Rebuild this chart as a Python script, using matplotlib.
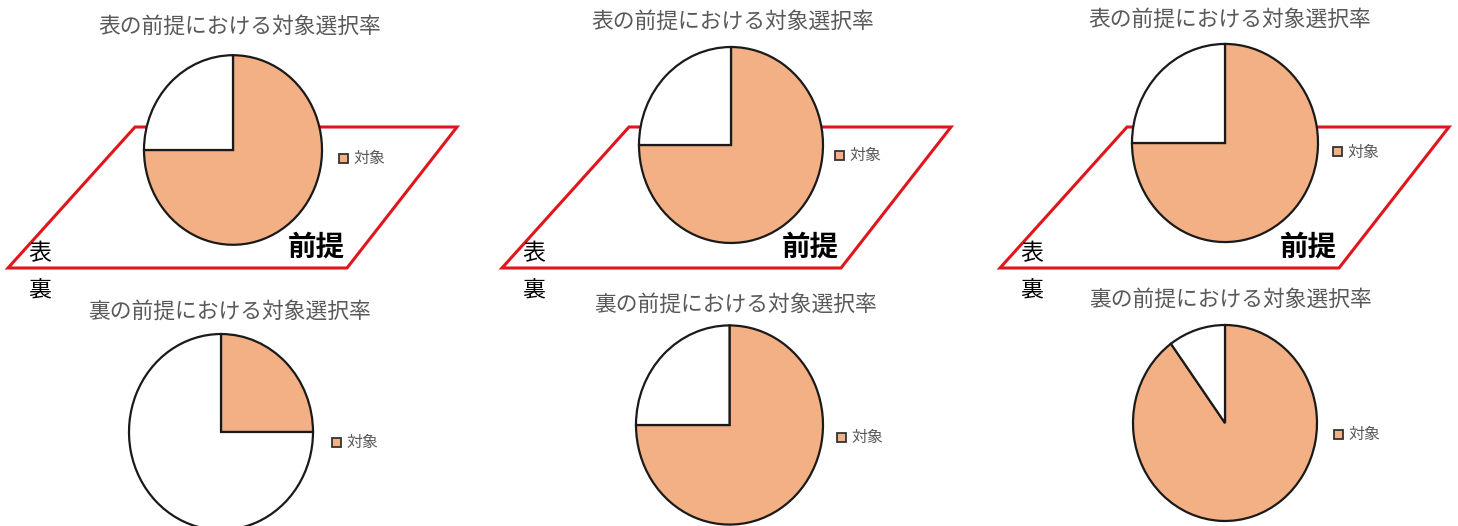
import matplotlib.pyplot as plt
from matplotlib.patches import Polygon, Rectangle

plt.rcParams['font.family'] = ['Noto Sans CJK JP', 'DejaVu Sans']

# データ: 対象の選択率 (表 / 裏)
titles_top = ['表の前提における対象選択率'] * 3
titles_bottom = ['裏の前提における対象選択率'] * 3
rate_top = [0.75, 0.75, 0.75]
rate_bottom = [0.25, 0.75, 0.90]
legend_label = '対象'

W, H = 1458, 526
S = 1.065  # 縦方向の伸び (元画像の円はやや縦長)
orange = '#F2B084'
red = '#E0161C'
gray = '#595959'

fig = plt.figure(figsize=(W / 100, H / 100), dpi=100)
ax = fig.add_axes([0, 0, 1, 1])

# 画像座標 (y下向き) -> 軸座標
def Y(y):
    return (H - y) / S

# 各パネルの配置 (ピクセル): 中心x, 中心y, 横半径
top_centers = [(233, 150, 89), (731, 145, 92), (1225, 143, 93)]
bot_centers = [(221, 432, 92), (729.5, 425, 93.5), (1225, 423, 92)]
top_title_pos = [(240, 27), (733, 22), (1230, 20)]
bot_title_pos = [(230, 312), (736, 305), (1231, 300)]
top_leg = [(344, 158), (840, 155), (1338, 152)]
bot_leg = [(337, 442), (842, 437), (1339, 434)]
para_x0 = [8, 502, 1000]

for i in range(3):
    # 平行四辺形 (前提)
    x0 = para_x0[i]
    pts = [(x0, Y(268)), (x0 + 339, Y(268)), (x0 + 449, Y(127)), (x0 + 127, Y(127))]
    ax.add_patch(Polygon(pts, closed=True, fill=False, edgecolor=red, lw=2.2, zorder=1))
    ax.text(x0 + 32, Y(254), '表', fontsize=16.5, color='black', ha='center', va='center', zorder=3)
    ax.text(x0 + 32, Y(291), '裏', fontsize=16.5, color='black', ha='center', va='center', zorder=3)
    ax.text(x0 + 308, Y(248), '前提', fontsize=20.5, fontweight='bold', color='black',
            ha='center', va='center', zorder=3)

    for (cx, cy, r), rate, title, tpos, lpos in [
        (top_centers[i], rate_top[i], titles_top[i], top_title_pos[i], top_leg[i]),
        (bot_centers[i], rate_bottom[i], titles_bottom[i], bot_title_pos[i], bot_leg[i]),
    ]:
        ax.pie([rate, 1 - rate], colors=[orange, 'white'], startangle=90, counterclock=False,
               center=(cx, Y(cy)), radius=r,
               wedgeprops=dict(edgecolor='#1a1a1a', linewidth=1.6, zorder=2))
        ax.text(tpos[0], Y(tpos[1]), title, fontsize=15.7, color=gray, ha='center', va='center')
        lx, ly = lpos
        ax.add_patch(Rectangle((lx - 4.5, Y(ly) - 4.5 / S), 9, 9 / S, facecolor=orange,
                               edgecolor='#333333', lw=1.3, zorder=3))
        ax.text(lx + 9, Y(ly), legend_label, fontsize=11.5, color=gray, ha='left', va='center')

ax.set_xlim(0, W)
ax.set_ylim(0, H / S)
ax.set_aspect('auto')
ax.axis('off')

fig.savefig('out.png', dpi=100)
